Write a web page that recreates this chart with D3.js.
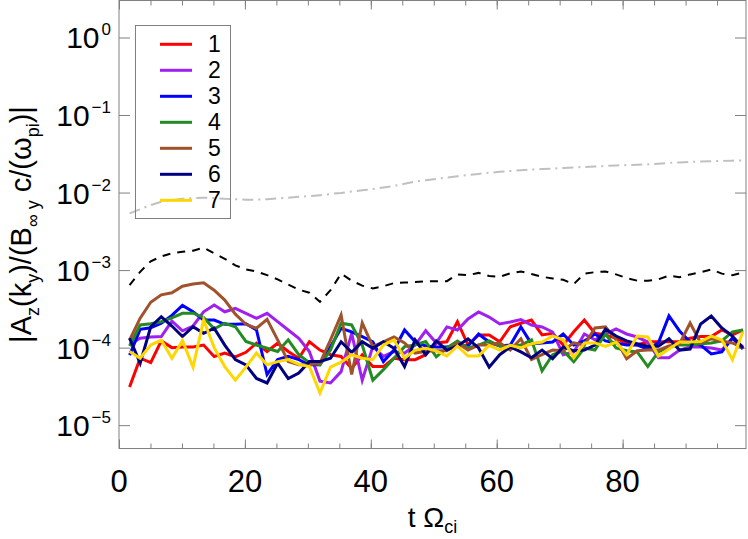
<!DOCTYPE html>
<html>
<head>
<meta charset="utf-8">
<script src="https://cdn.jsdelivr.net/npm/d3@7/dist/d3.min.js"></script>
<style>
body { margin: 0; background: #fff; }
svg { display: block; }
text { font-family: "Liberation Sans", Arial, Helvetica, sans-serif; fill: #000; }
</style>
</head>
<body>
<svg id="chart" width="748" height="539"></svg>
<script>
// sample times (t Omega_ci)
var time = [1.68, 3.36, 5.04, 6.72, 8.40, 10.08, 11.76, 13.44, 15.12, 16.80, 18.48, 20.16, 21.84, 23.52, 25.20,
  26.88, 28.56, 30.24, 31.92, 33.60, 35.28, 36.96, 38.64, 40.32, 42.00, 43.68, 45.36, 47.04, 48.72, 50.40,
  52.08, 53.76, 55.44, 57.12, 58.80, 60.48, 62.16, 63.84, 65.52, 67.20, 68.88, 70.56, 72.24, 73.92, 75.60,
  77.28, 78.96, 80.64, 82.32, 84.00, 85.68, 87.36, 89.04, 90.72, 92.40, 94.08, 95.76, 97.44, 99.12];

var mode1 = [3.1e-5, 7.3e-5, 6.4e-5, 1.22e-4, 1.0e-4, 1.02e-4, 1.02e-4, 1.08e-4, 7.7e-5, 8.5e-5, 7.6e-5, 8.7e-5, 1.14e-4, 8.9e-5, 1.14e-4,
  8.9e-5, 7.3e-5, 1.19e-4, 9.3e-5, 8.1e-5, 7.7e-5, 5.4e-5, 8.1e-5, 5.7e-5, 5.7e-5, 7.3e-5, 7.0e-5, 7.0e-5, 8.1e-5, 1.15e-4,
  1.19e-4, 2.16e-4, 1.08e-4, 1.46e-4, 1.46e-4, 1.19e-4, 1.86e-4, 2.06e-4, 2.27e-4, 1.46e-4, 1.53e-4, 1.08e-4, 1.6e-4, 2.27e-4, 1.53e-4,
  1.46e-4, 1.32e-4, 1.14e-4, 1.08e-4, 1.19e-4, 1.19e-4, 1.19e-4, 1.19e-4, 1.32e-4, 1.39e-4, 1.39e-4, 1.69e-4, 1.46e-4, 1.69e-4];
var mode2 = [1.1e-4, 1.32e-4, 1.37e-4, 1.39e-4, 2.2e-4, 1.65e-4, 1.9e-4, 2.9e-4, 3.55e-4, 2.9e-4, 3.2e-4, 2.77e-4, 2.39e-4, 2.77e-4, 2.16e-4,
  1.69e-4, 1.32e-4, 8.9e-5, 3.7e-5, 3.5e-5, 4.9e-5, 1.53e-4, 3.8e-5, 1.03e-4, 7.7e-5, 8.9e-5, 8.5e-5, 1.08e-4, 1.65e-4, 1.15e-4,
  1.85e-4, 1.69e-4, 2.34e-4, 2.88e-4, 2.48e-4, 2.02e-4, 2.14e-4, 2.3e-4, 1.96e-4, 1.85e-4, 1.59e-4, 8.1e-5, 8.8e-5, 1.5e-4, 1.26e-4,
  1.5e-4, 1.74e-4, 1.5e-4, 1.37e-4, 1.18e-4, 7.4e-5, 7.4e-5, 9.3e-5, 1.02e-4, 1.02e-4, 9.9e-5, 9.3e-5, 1.33e-4, 1.02e-4];
var mode3 = [8.0e-5, 1.72e-4, 1.8e-4, 2.06e-4, 2.6e-4, 3.5e-4, 2.9e-4, 2.27e-4, 2.27e-4, 2.0e-4, 2.0e-4, 2.03e-4, 1.69e-4, 4.5e-5, 7.0e-5,
  7.7e-5, 7.0e-5, 6.0e-5, 6.0e-5, 1.03e-4, 1.78e-4, 1.6e-4, 1.39e-4, 1.19e-4, 6.6e-5, 9.3e-5, 1.69e-4, 1.19e-4, 1.05e-4, 1.02e-4,
  1.02e-4, 1.08e-4, 1.05e-4, 1.5e-4, 1.18e-4, 1.05e-4, 1.08e-4, 1.85e-4, 1.12e-4, 1.15e-4, 1.18e-4, 1.5e-4, 1.08e-4, 1.22e-4, 1.5e-4,
  1.22e-4, 1.15e-4, 1.08e-4, 1.08e-4, 9.6e-5, 1.15e-4, 2.56e-4, 1.64e-4, 1.18e-4, 1.08e-4, 8.3e-5, 8.8e-5, 1.33e-4, 9.6e-5];
var mode4 = [1.05e-4, 1.96e-4, 2.03e-4, 2.16e-4, 2.42e-4, 2.77e-4, 2.78e-4, 2.45e-4, 1.75e-4, 2.06e-4, 1.86e-4, 1.2e-4, 1.08e-4, 9.8e-5, 8.9e-5,
  1.26e-4, 8.1e-5, 6.4e-5, 6.0e-5, 9.3e-5, 2.06e-4, 1.96e-4, 1.08e-4, 3.8e-5, 5.2e-5, 7.3e-5, 1.03e-4, 1.08e-4, 1.2e-4, 7.6e-5,
  9.9e-5, 1.22e-4, 9.9e-5, 1.08e-4, 1.22e-4, 1.05e-4, 1.03e-4, 1.08e-4, 1.26e-4, 5.0e-5, 8.1e-5, 9.1e-5, 6.6e-5, 9.9e-5, 9.3e-5,
  1.5e-4, 9.9e-5, 9.1e-5, 8.8e-5, 5.7e-5, 8.8e-5, 1.02e-4, 1.08e-4, 1.08e-4, 1.12e-4, 1.15e-4, 1.22e-4, 1.6e-4, 1.69e-4];
var mode5 = [1.25e-4, 2.4e-4, 3.85e-4, 4.8e-4, 5.1e-4, 6.2e-4, 6.6e-4, 6.85e-4, 5.5e-4, 4.1e-4, 2.7e-4, 2.0e-4, 1.78e-4, 2.32e-4, 1.26e-4,
  6.6e-5, 6.0e-5, 6.0e-5, 6.3e-5, 1.26e-4, 2.63e-4, 4.5e-5, 2.08e-4, 1.03e-4, 1.19e-4, 1.37e-4, 1.15e-4, 8.5e-5, 9.0e-5, 9.1e-5,
  9.1e-5, 1.15e-4, 9.3e-5, 1.08e-4, 1.08e-4, 1.15e-4, 9.3e-5, 1.3e-4, 7.0e-5, 8.1e-5, 9.3e-5, 9.1e-5, 1.15e-4, 1.08e-4, 1.79e-4,
  1.85e-4, 1.26e-4, 7.2e-5, 9.1e-5, 9.3e-5, 9.3e-5, 1.05e-4, 1.12e-4, 2.08e-4, 1.15e-4, 1.3e-4, 1.22e-4, 1.15e-4, 9.9e-5];
var mode6 = [1.32e-4, 6.3e-5, 1.86e-4, 2.5e-4, 1.9e-4, 1.39e-4, 1.86e-4, 1.53e-4, 1.78e-4, 1.08e-4, 7.0e-5, 6.0e-5, 4.0e-5, 3.5e-5, 6.3e-5,
  4.0e-5, 4.7e-5, 6.6e-5, 6.6e-5, 7.3e-5, 1.19e-4, 8.7e-5, 1.19e-4, 9.8e-5, 1.19e-4, 9.8e-5, 5.7e-5, 1.26e-4, 8.1e-5, 1.22e-4,
  9.3e-5, 1.05e-4, 1.3e-4, 9.9e-5, 5.6e-5, 8.1e-5, 1.02e-4, 8.8e-5, 7.4e-5, 9.3e-5, 7.2e-5, 1.02e-4, 9.1e-5, 9.3e-5, 1.08e-4,
  1.74e-4, 1.41e-4, 1.22e-4, 1.12e-4, 1.04e-4, 1.04e-4, 1.3e-4, 9.3e-5, 9.6e-5, 2.02e-4, 2.56e-4, 1.79e-4, 1.41e-4, 9.9e-5];
var mode7 = [8.9e-5, 7.3e-5, 1.08e-4, 1.25e-4, 7.3e-5, 1.23e-4, 5.6e-5, 2.27e-4, 1.0e-4, 5.7e-5, 3.8e-5, 5.6e-5, 8.5e-5, 6.0e-5, 6.6e-5,
  7.0e-5, 6.1e-5, 5.7e-5, 2.6e-5, 5.6e-5, 6.5e-5, 8.1e-5, 7.3e-5, 7.0e-5, 1.08e-4, 1.26e-4, 7.3e-5, 9.3e-5, 9.8e-5, 9.1e-5,
  7.8e-5, 1.05e-4, 7.8e-5, 7.8e-5, 1.07e-4, 9.3e-5, 1.07e-4, 9.9e-5, 1.12e-4, 1.18e-4, 1.41e-4, 1.26e-4, 7.4e-5, 1.15e-4, 1.15e-4,
  1.04e-4, 1.18e-4, 8.1e-5, 1.41e-4, 1.37e-4, 7.8e-5, 9.6e-5, 1.18e-4, 1.18e-4, 1.2e-4, 1.41e-4, 1.26e-4, 7.0e-5, 1.6e-4];

// black dashed curve
var dashedRef = [6.4e-4, 9.5e-4, 1.3e-3, 1.5e-3, 1.65e-3, 1.72e-3, 1.78e-3, 1.95e-3, 1.65e-3, 1.4e-3, 1.15e-3, 1.02e-3, 9.6e-4, 8.6e-4, 7.6e-4,
  6.5e-4, 5.6e-4, 5.1e-4, 3.9e-4, 5.5e-4, 9.0e-4, 7.3e-4, 6.3e-4, 5.8e-4, 6.2e-4, 6.8e-4, 6.9e-4, 7.0e-4, 7.2e-4, 7.2e-4,
  7.2e-4, 8.8e-4, 8.6e-4, 9.2e-4, 8.4e-4, 8.2e-4, 9.1e-4, 9.6e-4, 8.9e-4, 8.2e-4, 7.8e-4, 7.5e-4, 6.6e-4, 9.0e-4, 9.4e-4,
  9.6e-4, 8.8e-4, 7.9e-4, 7.3e-4, 7.3e-4, 7.6e-4, 8.5e-4, 8.1e-4, 8.8e-4, 9.4e-4, 1.02e-3, 9.0e-4, 8.6e-4, 9.3e-4];
// grey dash-dot curve
var dashDotRef = [5.4e-3, 6.1e-3, 6.9e-3, 7.6e-3, 8.0e-3, 8.3e-3, 8.5e-3, 8.6e-3, 8.5e-3, 8.3e-3, 8.2e-3, 8.1e-3, 8.1e-3, 8.2e-3, 8.4e-3,
  8.6e-3, 8.8e-3, 9.0e-3, 9.2e-3, 9.6e-3, 9.9e-3, 1.03e-2, 1.07e-2, 1.11e-2, 1.16e-2, 1.22e-2, 1.30e-2, 1.39e-2, 1.44e-2, 1.50e-2,
  1.56e-2, 1.62e-2, 1.68e-2, 1.74e-2, 1.80e-2, 1.85e-2, 1.90e-2, 1.94e-2, 1.98e-2, 2.01e-2, 2.04e-2, 2.08e-2, 2.11e-2, 2.14e-2, 2.17e-2,
  2.20e-2, 2.24e-2, 2.26e-2, 2.29e-2, 2.31e-2, 2.36e-2, 2.41e-2, 2.45e-2, 2.49e-2, 2.52e-2, 2.54e-2, 2.56e-2, 2.58e-2, 2.60e-2];

var seriesNames = ['1', '2', '3', '4', '5', '6', '7'];
var seriesValues = [mode1, mode2, mode3, mode4, mode5, mode6, mode7];
var seriesColors = ['#ff0000', '#a020f0', '#0000ff', '#228b22', '#a0522d', '#000080', '#ffd700'];

var xTicks = [0, 20, 40, 60, 80];
var xMinorTicks = [0, 5, 10, 15, 20, 25, 30, 35, 40, 45, 50, 55, 60, 65, 70, 75, 80, 85, 90, 95];
var yTicks = [1e-5, 1e-4, 1e-3, 1e-2, 1e-1, 1];
var yTickExp = ['\u22125', '\u22124', '\u22123', '\u22122', '\u22121', '0'];

var plot = { left: 119, right: 746, top: 0.5, bottom: 448.5 };
var frameColor = '#808080';

var svg = d3.select('#chart');
var x = d3.scaleLinear().domain([0, 99.6]).range([plot.left, plot.right]);
var y = d3.scaleLog().domain([5e-6, 3]).range([plot.bottom, plot.top]);

svg.append('defs').append('clipPath')
    .attr('id', 'plotClip')
    .append('rect')
    .attr('x', plot.left)
    .attr('y', plot.top)
    .attr('width', plot.right - plot.left)
    .attr('height', plot.bottom - plot.top);

// ticks (inward, on all four sides)
function styleAxis(g) {
    g.select('.domain').remove();
    g.selectAll('line').attr('stroke', frameColor).attr('stroke-width', 1);
    g.selectAll('text').remove();
}
svg.append('g').attr('transform', 'translate(0,' + plot.bottom + ')')
    .call(d3.axisBottom(x).tickValues(xMinorTicks).tickSize(-5).tickFormat(''))
    .call(styleAxis);
svg.append('g').attr('transform', 'translate(0,' + plot.bottom + ')')
    .call(d3.axisBottom(x).tickValues(xTicks).tickSize(-9).tickFormat(''))
    .call(styleAxis);
svg.append('g').attr('transform', 'translate(0,' + plot.top + ')')
    .call(d3.axisTop(x).tickValues(xMinorTicks).tickSize(-5).tickFormat(''))
    .call(styleAxis);
svg.append('g').attr('transform', 'translate(0,' + plot.top + ')')
    .call(d3.axisTop(x).tickValues(xTicks).tickSize(-9).tickFormat(''))
    .call(styleAxis);
svg.append('g').attr('transform', 'translate(' + plot.left + ',0)')
    .call(d3.axisLeft(y).tickValues(yTicks).tickSize(-11).tickFormat(''))
    .call(styleAxis);
svg.append('g').attr('transform', 'translate(' + plot.right + ',0)')
    .call(d3.axisRight(y).tickValues(yTicks).tickSize(-11).tickFormat(''))
    .call(styleAxis);

// frame
svg.append('rect')
    .attr('x', plot.left)
    .attr('y', plot.top)
    .attr('width', plot.right - plot.left)
    .attr('height', plot.bottom - plot.top)
    .attr('fill', 'none')
    .attr('stroke', frameColor)
    .attr('stroke-width', 1);

// tick labels
svg.append('g').selectAll('text')
    .data(xTicks)
    .enter().append('text')
    .attr('x', function (d) { return x(d); })
    .attr('y', 492)
    .attr('text-anchor', 'middle')
    .style('font-size', '31px')
    .text(function (d) { return d; });

var yLabels = svg.append('g').selectAll('text')
    .data(yTicks)
    .enter().append('text')
    .attr('x', 111)
    .attr('y', function (d) { return y(d) + 11; })
    .attr('text-anchor', 'end')
    .style('font-size', '30px');
yLabels.append('tspan').text('10');
yLabels.append('tspan')
    .attr('dx', 2)
    .attr('dy', -13)
    .style('font-size', '17px')
    .text(function (d, i) { return yTickExp[i]; });

// reference curves
var line = d3.line()
    .x(function (d) { return x(d[0]); })
    .y(function (d) { return y(d[1]); });

var curves = svg.append('g').attr('clip-path', 'url(#plotClip)');

curves.append('path')
    .datum(d3.zip(time, dashDotRef))
    .attr('fill', 'none')
    .attr('stroke', '#c0c0c0')
    .attr('stroke-width', 2)
    .attr('stroke-dasharray', '11,5,2,5')
    .attr('d', line);

curves.append('path')
    .datum(d3.zip(time, dashedRef))
    .attr('fill', 'none')
    .attr('stroke', '#000')
    .attr('stroke-width', 2)
    .attr('stroke-dasharray', '8,7')
    .attr('d', line);

seriesValues.forEach(function (vals, i) {
    curves.append('path')
        .datum(d3.zip(time, vals))
        .attr('fill', 'none')
        .attr('stroke', seriesColors[i])
        .attr('stroke-width', 3)
        .attr('stroke-linejoin', 'miter')
        .attr('d', line);
});

// legend
var legend = svg.append('g');
legend.append('rect')
    .attr('x', 135.5)
    .attr('y', 25.5)
    .attr('width', 95)
    .attr('height', 193)
    .attr('fill', 'none')
    .attr('stroke', frameColor)
    .attr('stroke-width', 1);
var items = legend.selectAll('g.item')
    .data(seriesNames)
    .enter().append('g')
    .attr('class', 'item')
    .attr('transform', function (d, i) { return 'translate(0,' + (44.3 + i * 26) + ')'; });
items.append('line')
    .attr('x1', 160).attr('x2', 192)
    .attr('y1', 0).attr('y2', 0)
    .attr('stroke', function (d, i) { return seriesColors[i]; })
    .attr('stroke-width', 3);
items.append('text')
    .attr('x', 208)
    .attr('y', 8)
    .style('font-size', '23px')
    .text(function (d) { return d; });

// axis titles
var xTitle = svg.append('text')
    .attr('x', (plot.left + plot.right) / 2)
    .attr('y', 527)
    .attr('text-anchor', 'middle')
    .style('font-size', '28px');
xTitle.append('tspan').text('t \u03a9');
xTitle.append('tspan').attr('dy', 6).style('font-size', '18px').text('ci');

var yTitle = svg.append('text')
    .attr('transform', 'translate(31,' + (plot.top + plot.bottom) / 2 + ') rotate(-90)')
    .attr('text-anchor', 'middle')
    .style('font-size', '29px');
var yParts = [['|A', 0], ['z', 1], ['(k', 0], ['y', 1], [')/(B', 0], ['\u221e y', 1], [' c/(\u03c9', 0], ['pi', 1], [')|', 0]];
var prevSub = 0;
yParts.forEach(function (p) {
    var dy = (p[1] - prevSub) * 8;
    yTitle.append('tspan')
        .attr('dy', dy)
        .style('font-size', p[1] ? '18px' : '29px')
        .text(p[0]);
    prevSub = p[1];
});
</script>
</body>
</html>
